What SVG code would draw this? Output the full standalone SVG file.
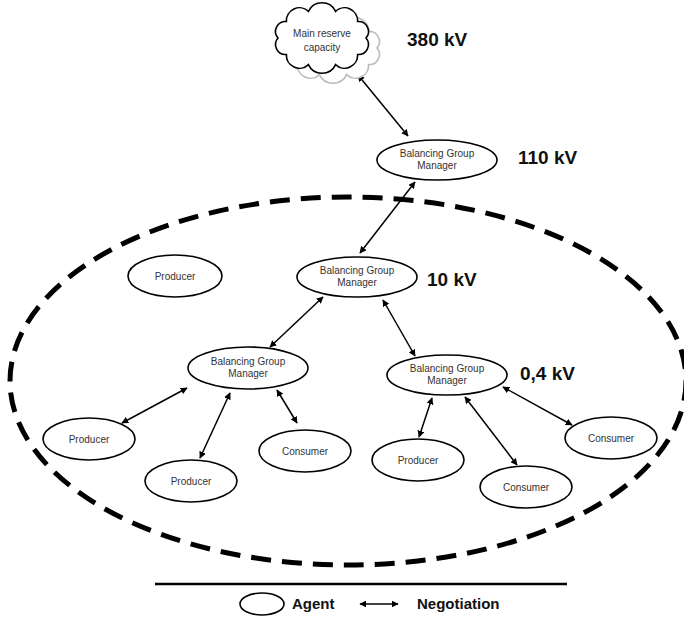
<svg xmlns="http://www.w3.org/2000/svg" width="684" height="617" viewBox="0 0 684 617">
<style>
.agent{fill:#fff;stroke:#000;stroke-width:1.6}
.t{font-family:"Liberation Sans",Arial,sans-serif;font-size:10px;fill:#333;text-anchor:middle}
.kv{font-family:"Liberation Sans",Arial,sans-serif;font-size:19px;font-weight:bold;fill:#111}
.lg{font-family:"Liberation Sans",Arial,sans-serif;font-size:15px;font-weight:bold;fill:#111}
.c{stroke:#000;stroke-width:1.5;fill:none;marker-start:url(#ah);marker-end:url(#ah)}
</style>
<defs>
<marker id="ah" viewBox="0 0 10 10" refX="9" refY="5" markerWidth="7" markerHeight="7" markerUnits="userSpaceOnUse" orient="auto-start-reverse">
<path d="M0,0 L10,5 L0,10 Z" fill="#000"/>
</marker>
<path id="cloud" d="M366,38 A10,10 0 0 1 357.6,54.5 A13,13 0 0 1 335.6,64.6 A15,15 0 0 1 308.4,64.6 A13,13 0 0 1 286.4,54.5 A10,10 0 0 1 278,38 A10,10 0 0 1 286.4,21.5 A13,13 0 0 1 308.4,11.4 A15,15 0 0 1 335.6,11.4 A13,13 0 0 1 357.6,21.5 A10,10 0 0 1 366,38 Z"/>
</defs>
<rect width="684" height="617" fill="#fff"/>
<ellipse id="region" cx="348" cy="381" rx="338" ry="184" fill="none" stroke="#000" stroke-width="5" stroke-dasharray="20 11"/>
<g id="connectors">
<line class="c" x1="358" y1="75" x2="408" y2="136"/>
<line class="c" x1="415" y1="182" x2="360" y2="253"/>
<line class="c" x1="323" y1="297" x2="270" y2="347"/>
<line class="c" x1="383" y1="300" x2="415" y2="356"/>
<line class="c" x1="187" y1="388" x2="122" y2="423"/>
<line class="c" x1="230" y1="393" x2="200" y2="458"/>
<line class="c" x1="277" y1="390" x2="297" y2="423"/>
<line class="c" x1="432" y1="398" x2="419" y2="437"/>
<line class="c" x1="465" y1="397" x2="517" y2="465"/>
<line class="c" x1="503" y1="387" x2="572" y2="425"/>
</g>
<g id="cloud-main">
<use href="#cloud" transform="translate(11,10)" fill="#fff" stroke="#bbb" stroke-width="1.6"/>
<use href="#cloud" fill="#fff" stroke="#000" stroke-width="1.6"/>
<text class="t" x="322" y="37">Main reserve</text>
<text class="t" x="322" y="51">capacity</text>
</g>
<g id="bgm110">
<ellipse class="agent" cx="437" cy="160" rx="60" ry="20"/>
<text class="t" x="437" y="157">Balancing Group</text>
<text class="t" x="437" y="169">Manager</text>
</g>
<g id="bgm10">
<ellipse class="agent" cx="357" cy="277" rx="60" ry="20"/>
<text class="t" x="357" y="274">Balancing Group</text>
<text class="t" x="357" y="286">Manager</text>
</g>
<g id="bgm-left">
<ellipse class="agent" cx="248" cy="368" rx="60" ry="21"/>
<text class="t" x="248" y="365">Balancing Group</text>
<text class="t" x="248" y="377">Manager</text>
</g>
<g id="bgm-right">
<ellipse class="agent" cx="447" cy="375" rx="60" ry="20"/>
<text class="t" x="447" y="372">Balancing Group</text>
<text class="t" x="447" y="384">Manager</text>
</g>
<g id="producer-top">
<ellipse class="agent" cx="175" cy="276" rx="47" ry="21"/>
<text class="t" x="175" y="280">Producer</text>
</g>
<g id="producer-left">
<ellipse class="agent" cx="89" cy="439" rx="46" ry="21"/>
<text class="t" x="89" y="443">Producer</text>
</g>
<g id="producer-bottom">
<ellipse class="agent" cx="191" cy="481" rx="46" ry="21"/>
<text class="t" x="191" y="485">Producer</text>
</g>
<g id="consumer-left">
<ellipse class="agent" cx="305" cy="451" rx="46" ry="21"/>
<text class="t" x="305" y="455">Consumer</text>
</g>
<g id="producer-right">
<ellipse class="agent" cx="418" cy="460" rx="46" ry="21"/>
<text class="t" x="418" y="464">Producer</text>
</g>
<g id="consumer-bottom">
<ellipse class="agent" cx="526" cy="487" rx="46" ry="21"/>
<text class="t" x="526" y="491">Consumer</text>
</g>
<g id="consumer-right">
<ellipse class="agent" cx="611" cy="438" rx="46" ry="21"/>
<text class="t" x="611" y="442">Consumer</text>
</g>
<g id="labels">
<text class="kv" x="407" y="46">380 kV</text>
<text class="kv" x="518" y="164">110 kV</text>
<text class="kv" x="427" y="286">10 kV</text>
<text class="kv" x="520" y="380">0,4 kV</text>
</g>
<g id="legend">
<line x1="155" y1="584" x2="567" y2="584" stroke="#000" stroke-width="2.5"/>
<ellipse cx="262" cy="604" rx="22" ry="11" fill="#fff" stroke="#000" stroke-width="1.6"/>
<text class="lg" x="292" y="609">Agent</text>
<line class="c" x1="360" y1="604" x2="398" y2="604"/>
<text class="lg" x="417" y="609">Negotiation</text>
</g>
</svg>
